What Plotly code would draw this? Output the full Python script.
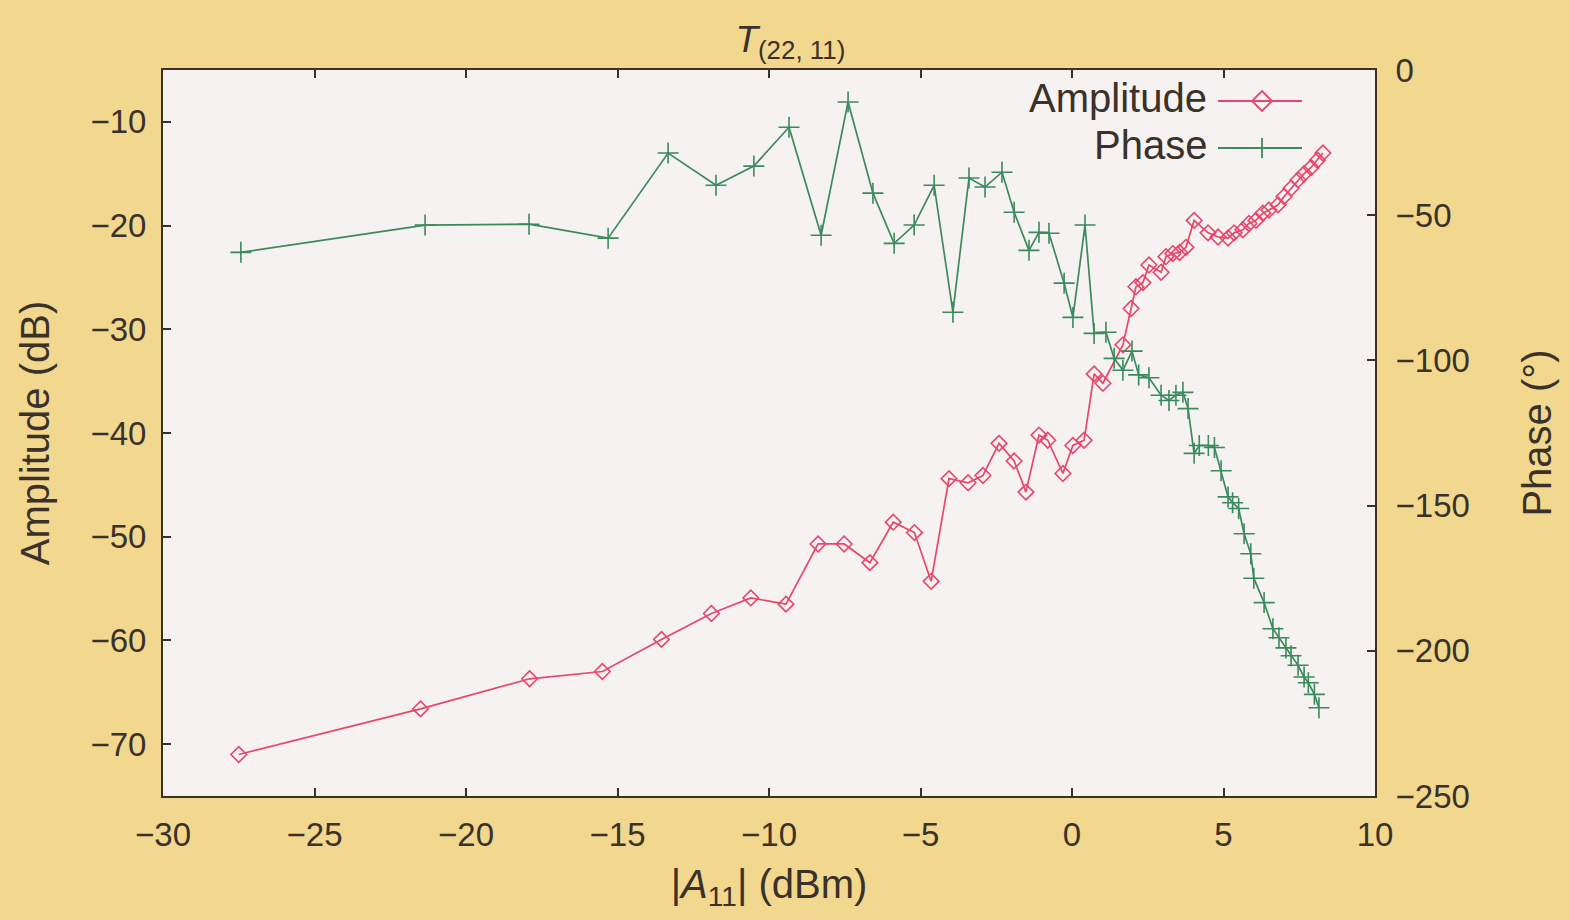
import plotly.graph_objects as go

# ---- data ----
amp_x = [-27.5, -21.5, -17.9, -15.5, -13.55, -11.9, -10.6, -9.44, -8.38, -7.52,
         -6.67, -5.9, -5.2, -4.65, -4.06, -3.43, -2.94, -2.41, -1.91, -1.52,
         -1.09, -0.8, -0.30, 0.03, 0.40, 0.73, 1.02, 1.68, 1.95, 2.11,
         2.34, 2.54, 2.94, 3.1, 3.33, 3.55, 3.76, 4.03, 4.49, 4.82,
         5.15, 5.35, 5.64, 5.84, 6.07, 6.3, 6.5, 6.8, 7.0, 7.23,
         7.46, 7.66, 7.89, 8.1, 8.28]
amp_db = [-71.0, -66.6, -63.7, -63.0, -59.9, -57.4, -55.9, -56.5, -50.7, -50.7,
          -52.5, -48.6, -49.6, -54.3, -44.4, -44.8, -44.1, -41.0, -42.7, -45.7,
          -40.2, -40.7, -43.9, -41.2, -40.7, -34.3, -35.2, -31.5, -28.0, -25.9,
          -25.5, -23.8, -24.5, -23.0, -22.7, -22.6, -22.1, -19.5, -20.7, -21.1,
          -21.2, -20.7, -20.4, -19.8, -19.5, -18.8, -18.5, -18.0, -17.2, -16.4,
          -15.6, -15.0, -14.4, -13.7, -13.0]

phase_x = [-27.43, -21.35, -17.92, -15.31, -13.33, -11.75, -10.5, -9.34, -8.28, -7.39,
           -6.57, -5.87, -5.21, -4.55, -3.93, -3.4, -2.87, -2.31, -1.91, -1.42,
           -1.09, -0.76, -0.26, 0.03, 0.43, 0.73, 1.12, 1.39, 1.68, 1.98,
           2.2, 2.54, 2.94, 3.2, 3.43, 3.66, 3.83, 4.03, 4.2, 4.5,
           4.7, 4.92, 5.15, 5.3, 5.5, 5.68, 5.9, 6.0, 6.34, 6.63,
           6.83, 7.06, 7.23, 7.46, 7.66, 7.8, 8.0, 8.15]
phase_deg = [-62.8, -53.4, -53.1, -57.9, -28.6, -39.7, -33.1, -19.7, -56.9, -11.0,
             -42.4, -59.7, -53.4, -39.7, -83.4, -37.2, -40.3, -35.2, -49.0, -62.1,
             -55.9, -56.2, -73.4, -85.2, -53.4, -90.7, -90.3, -99.3, -103.4, -96.8,
             -105.0, -106.0, -112.0, -113.8, -112.0, -111.0, -116.6, -132.0, -129.3, -129.3,
             -130.0, -138.0, -147.0, -149.0, -151.0, -159.7, -166.6, -175.0, -183.4, -192.4,
             -195.5, -199.0, -201.7, -205.0, -209.0, -211.0, -215.0, -219.6]

x_ticks = [-30, -25, -20, -15, -10, -5, 0, 5, 10]
amp_ticks = [-70, -60, -50, -40, -30, -20, -10]
phase_ticks = [-250, -200, -150, -100, -50, 0]

RED = "#e8466a"
GREEN = "#3b8a5c"
TXT = "#3a3128"
FRAME = "#3a3024"
FONT = "Liberation Sans, Arial, sans-serif"

fig = go.Figure()
fig.add_trace(go.Scatter(
    x=amp_x, y=amp_db, name="Amplitude", mode="lines+markers",
    line=dict(color=RED, width=1.7),
    marker=dict(symbol="diamond-open", size=12, color=RED, line=dict(width=1.6, color=RED)),
    yaxis="y", showlegend=False))
fig.add_trace(go.Scatter(
    x=phase_x, y=phase_deg, name="Phase", mode="lines+markers",
    line=dict(color=GREEN, width=1.7),
    marker=dict(symbol="cross-thin", size=15, color=GREEN, line=dict(width=1.6, color=GREEN)),
    yaxis="y2", showlegend=False))

axis_common = dict(showgrid=False, zeroline=False, showline=True, linecolor=FRAME, linewidth=2,
                   ticks="inside", ticklen=8, tickwidth=1.5, tickcolor=FRAME,
                   tickfont=dict(family=FONT, size=33, color=TXT))

fig.update_layout(
    width=1570, height=920,
    margin=dict(l=163, r=195, t=70, b=124, autoexpand=False),
    paper_bgcolor="#f2d78f",
    plot_bgcolor="#f5f2f1",
    font=dict(family=FONT, color=TXT),
    title=dict(text="<i>T</i><sub>(22, 11)</sub>", x=0.5034, xanchor="center",
               y=0.958, yanchor="middle", font=dict(family=FONT, size=37, color=TXT)),
    xaxis=dict(range=[-30, 10], tickvals=x_ticks, mirror="ticks", ticklabelstandoff=8,
               title=dict(text="|<i>A</i><sub>11</sub>| (dBm)", standoff=18,
                          font=dict(family=FONT, size=40, color=TXT)),
               **axis_common),
    yaxis=dict(range=[-75, -5], tickvals=amp_ticks, ticklabelstandoff=8,
               title=dict(text="Amplitude (dB)", standoff=28,
                          font=dict(family=FONT, size=40, color=TXT)),
               **axis_common),
    yaxis2=dict(range=[-250, 0], tickvals=phase_ticks, overlaying="y", side="right",
                anchor="x", ticklabelstandoff=12,
                title=dict(text="Phase (°)", standoff=54,
                           font=dict(family=FONT, size=40, color=TXT)),
                **axis_common),
)

# manual legend (text on the left, sample on the right, as in the reference)
def px2paper_x(px):
    return (px - 163) / (1570 - 163 - 195)

def py2paper_y(py):
    return 1 - (py - 70) / (920 - 70 - 124)

leg = [("Amplitude", RED, 101, "diamond"), ("Phase", GREEN, 148, "cross")]
for label, col, py, kind in leg:
    fig.add_annotation(text=label, xref="paper", yref="paper",
                       x=px2paper_x(1209), y=py2paper_y(py - 3), xanchor="right", yanchor="middle",
                       showarrow=False, font=dict(family=FONT, size=40, color=TXT))
    fig.add_shape(type="line", xref="paper", yref="paper",
                  x0=px2paper_x(1218), x1=px2paper_x(1302), y0=py2paper_y(py), y1=py2paper_y(py),
                  line=dict(color=col, width=1.8))
    cx, cy = 1262, py
    if kind == "diamond":
        pts = [(cx, cy - 10), (cx + 10, cy), (cx, cy + 10), (cx - 10, cy)]
        path = "M " + " L ".join(f"{px2paper_x(a)},{py2paper_y(b)}" for a, b in pts) + " Z"
        fig.add_shape(type="path", xref="paper", yref="paper", path=path,
                      line=dict(color=col, width=1.8), fillcolor="rgba(0,0,0,0)")
    else:
        fig.add_shape(type="line", xref="paper", yref="paper",
                      x0=px2paper_x(cx), x1=px2paper_x(cx), y0=py2paper_y(cy - 10), y1=py2paper_y(cy + 10),
                      line=dict(color=col, width=1.8))

fig.write_html("out.html")
